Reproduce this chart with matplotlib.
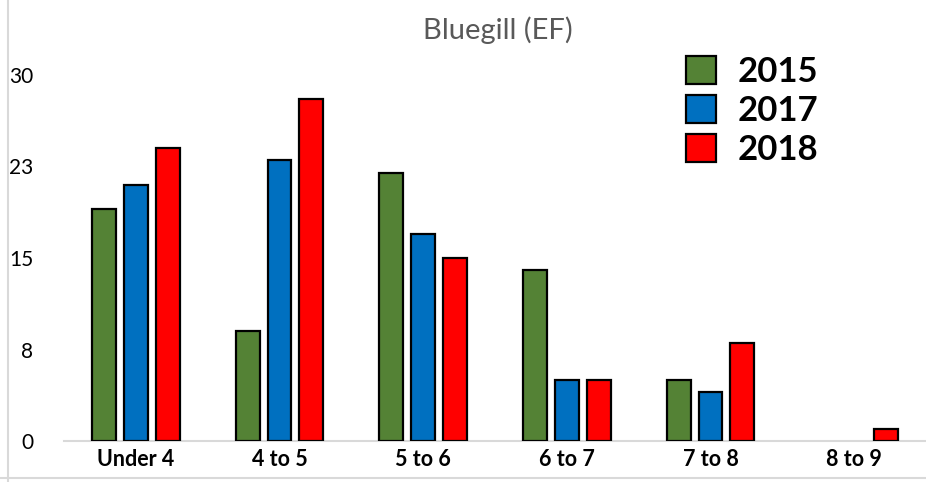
import matplotlib
import matplotlib.pyplot as plt
import numpy as np
from matplotlib.lines import Line2D

matplotlib.use('Agg')
plt.rcParams['font.family'] = ['Lato', 'DejaVu Sans']

categories = ['Under 4', '4 to 5', '5 to 6', '6 to 7', '7 to 8', '8 to 9']
years = ['2015', '2017', '2018']
counts_2015 = [19, 9, 22, 14, 5, 0]
counts_2017 = [21, 23, 17, 5, 4, 0]
counts_2018 = [24, 28, 15, 5, 8, 1]
colors = ['#548235', '#0070C0', '#FF0000']
y_ticks = [0, 7.5, 15, 22.5, 30]
y_tick_labels = ['0', '8', '15', '23', '30']

fig = plt.figure(figsize=(9.26, 4.82), dpi=100)
ax = fig.add_axes([64 / 926, 41 / 482, 862 / 926, 366 / 482])

x = np.arange(len(categories))
width = 0.167
step = 0.222
for k, (vals, col, yr) in enumerate(zip([counts_2015, counts_2017, counts_2018], colors, years)):
    # empty bins get no outline so they don't show as a stub on the axis
    lws = [1.6 if v > 0 else 0 for v in vals]
    ax.bar(x + (k - 1) * step, vals, width, color=col, edgecolor='black',
           linewidth=lws, label=yr, zorder=3)

ax.set_xlim(-0.5, len(categories) - 0.5)
ax.set_ylim(0, 30)
ax.set_yticks(y_ticks)
ax.set_yticklabels(y_tick_labels, fontsize=15, color='black')
ax.set_xticks(x)
ax.set_xticklabels(categories, fontsize=15.5, fontweight='bold')
ax.tick_params(axis='both', length=0)
ax.tick_params(axis='y', pad=22)
ax.tick_params(axis='x', pad=6)
for s in ['top', 'right', 'left']:
    ax.spines[s].set_visible(False)
ax.spines['bottom'].set_color('#D9D9D9')
ax.spines['bottom'].set_linewidth(1.5)

fig.text(498 / 926, 1 - 30 / 482, 'Bluegill (EF)', ha='center', va='center',
         fontsize=21, color='#595959')

leg = ax.legend(loc='upper left', bbox_to_anchor=(686 / 926, 1 - 56 / 482),
                bbox_transform=fig.transFigure, frameon=False,
                prop={'size': 25, 'weight': 'bold'}, handlelength=0.85,
                handleheight=0.85, handletextpad=0.65, labelspacing=0.2,
                borderaxespad=0, borderpad=0)
for h in leg.legend_handles:
    h.set_linewidth(1.6)

# light frame edges around the chart area
fig.add_artist(Line2D([8 / 926, 8 / 926], [0, 1], color='#D9D9D9', lw=1.5))
fig.add_artist(Line2D([0, 1], [4 / 482, 4 / 482], color='#D9D9D9', lw=1.5))

fig.savefig('out.png', dpi=100)
